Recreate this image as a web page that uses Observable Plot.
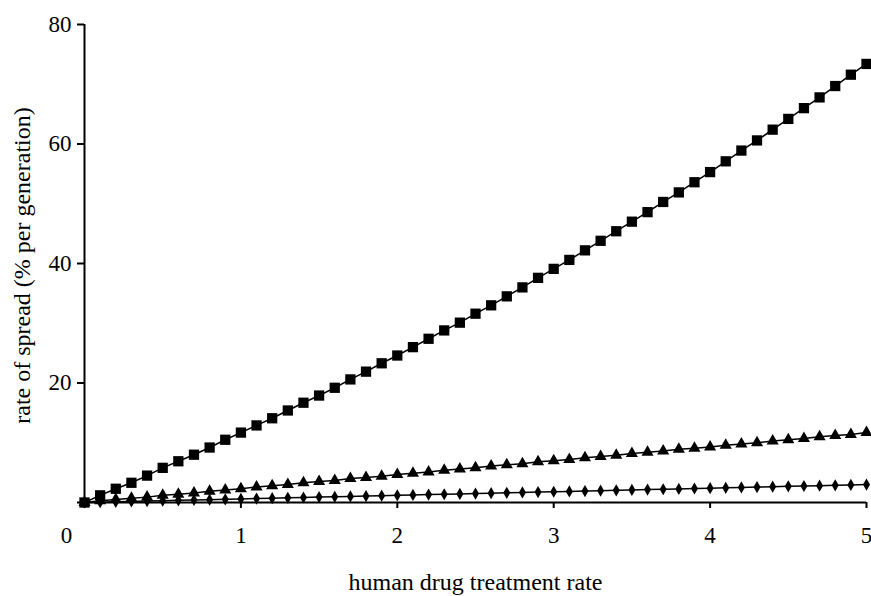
<!DOCTYPE html>
<html>
<head>
<meta charset="utf-8">
<script src="https://cdn.jsdelivr.net/npm/d3@7"></script>
<script src="https://cdn.jsdelivr.net/npm/@observablehq/plot@0.6"></script>
<style>
  html, body { margin: 0; padding: 0; background: #fff; }
  #chart svg { display: block; }
  #chart svg text { font-family: 'Liberation Serif', 'Times New Roman', serif !important; }
</style>
</head>
<body>
<div id="chart"></div>
<script>
// treatment rate values (x)
const treatmentRate = [0,0.1,0.2,0.3,0.4,0.5,0.6,0.7,0.8,0.9,1.0,1.1,1.2,1.3,1.4,1.5,1.6,1.7,1.8,1.9,2.0,2.1,2.2,2.3,2.4,2.5,2.6,2.7,2.8,2.9,3.0,3.1,3.2,3.3,3.4,3.5,3.6,3.7,3.8,3.9,4.0,4.1,4.2,4.3,4.4,4.5,4.6,4.7,4.8,4.9,5.0];

// series
const squareSeries = [0,1.2,2.3,3.3,4.5,5.8,6.9,8.0,9.2,10.5,11.7,12.9,14.1,15.4,16.7,17.9,19.2,20.6,21.9,23.3,24.6,26.0,27.4,28.8,30.1,31.6,33.0,34.5,36.0,37.6,39.1,40.6,42.2,43.8,45.4,47.0,48.6,50.3,51.9,53.6,55.3,57.1,58.9,60.6,62.4,64.2,66.0,67.8,69.7,71.6,73.4];
const triangleSeries = [0,0.3,0.5,0.7,0.9,1.2,1.4,1.6,1.9,2.1,2.3,2.6,2.8,3.0,3.3,3.5,3.7,4.0,4.2,4.4,4.7,4.9,5.1,5.4,5.6,5.8,6.1,6.3,6.5,6.8,7.0,7.2,7.5,7.7,7.9,8.2,8.4,8.6,8.9,9.1,9.3,9.6,9.8,10.0,10.3,10.5,10.7,11.0,11.2,11.4,11.7];
const diamondSeries = [0,0.06,0.12,0.18,0.24,0.3,0.36,0.42,0.48,0.54,0.6,0.66,0.72,0.78,0.84,0.9,0.96,1.02,1.08,1.14,1.2,1.26,1.32,1.38,1.44,1.5,1.56,1.62,1.68,1.74,1.8,1.86,1.92,1.98,2.04,2.1,2.16,2.22,2.28,2.34,2.4,2.46,2.52,2.58,2.64,2.7,2.76,2.82,2.88,2.94,3.0];

// axis ticks
const xTicks = [0,1,2,3,4,5];
const yTicks = [0,20,40,60,80];

const xLabel = "human drug treatment rate";
const yLabel = "rate of spread (% per generation)";

const seriesDefs = [
  {name: "square", symbol: "square", r: 5.8, values: squareSeries},
  {name: "triangle", symbol: "triangle", r: 4.5, values: triangleSeries},
  {name: "diamond", symbol: "diamond", r: 3.7, values: diamondSeries}
];

const font = "'Liberation Serif', 'Times New Roman', serif";

const marks = [
  Plot.ruleX([0], {y1: 0, y2: 80, stroke: "black", strokeWidth: 2}),
  Plot.ruleY([0], {x1: 0, x2: 5, stroke: "black", strokeWidth: 2}),
  Plot.axisY({
    ticks: yTicks,
    tickFormat: d => d === 0 ? "" : String(d),
    tickSize: 7,
    tickPadding: 6,
    strokeWidth: 2,
    fontSize: 23,
    fontFamily: font,
    label: null
  }),
  Plot.axisX({
    ticks: xTicks,
    tickFormat: d => d === 0 ? "" : String(d),
    tickSize: 6,
    tickPadding: 18,
    strokeWidth: 2,
    fontSize: 23,
    fontFamily: font,
    label: null
  }),
  Plot.text(["0"], {x: () => 0, y: () => 0, text: d => d, dx: -18, dy: 33, fontSize: 23, fontFamily: font, lineAnchor: "middle"}),
  // x-axis title
  Plot.text([xLabel], {x: () => 2.5, y: () => 0, text: d => d, dx: 0, dy: 80, fontSize: 24, fontFamily: font, lineAnchor: "middle"}),
  // y-axis title
  Plot.text([yLabel], {x: () => 0, y: () => 40, text: d => d, dx: -62, dy: 2, rotate: -90, fontSize: 24, fontFamily: font, lineAnchor: "middle"})
];

for (const s of seriesDefs) {
  const data = treatmentRate.map((x, i) => ({x, y: s.values[i]}));
  marks.push(Plot.line(data, {x: "x", y: "y", stroke: "black", strokeWidth: 1.5}));
  marks.push(Plot.dot(data, {x: "x", y: "y", symbol: () => s.symbol, r: s.r, fill: "black", stroke: "none"}));
}

const chart = Plot.plot({
  width: 871,
  height: 596,
  marginLeft: 84,
  marginRight: 5,
  marginTop: 24,
  marginBottom: 94,
  style: {fontFamily: font, fontSize: "20px", color: "black", background: "white", overflow: "visible"},
  x: {domain: [0, 5]},
  y: {domain: [0, 80]},
  symbol: {type: "identity"},
  marks
});

document.getElementById("chart").appendChild(chart);
</script>
</body>
</html>
